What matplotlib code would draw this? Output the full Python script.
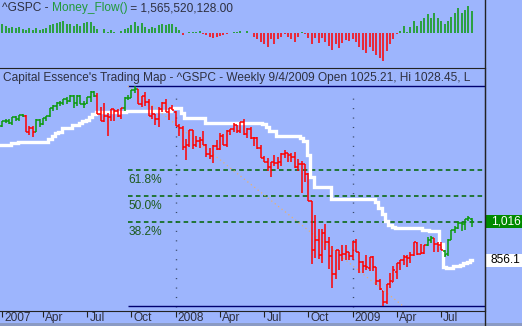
import matplotlib
matplotlib.use('Agg')
import matplotlib.pyplot as plt
from matplotlib.lines import Line2D
from matplotlib.patches import Rectangle
from matplotlib.collections import LineCollection

plt.rcParams['font.family'] = ['Liberation Sans', 'DejaVu Sans']

# weekly S&P 500 bars, week ending 5 Jan 2007 .. 4 Sep 2009
opens = [
    1418.0, 1409.3, 1430.7, 1430.5, 1422.0, 1448.3, 1438.0, 1455.5, 1451.0, 1387.1,
    1402.8, 1386.9, 1436.1, 1420.8, 1443.8, 1452.8, 1484.3, 1494.0, 1505.6, 1505.8,
    1522.7, 1515.6, 1536.3, 1507.6, 1532.9, 1502.5, 1504.7, 1530.4, 1552.5, 1534.1,
    1458.9, 1433.0, 1453.4, 1445.9, 1479.4, 1473.9, 1453.5, 1484.2, 1525.7, 1527.0,
    1557.6, 1561.8, 1500.6, 1535.3, 1509.6, 1453.7, 1458.7, 1440.7, 1481.1, 1504.7,
    1467.9, 1484.5,
    1468.0, 1411.9, 1401.0, 1325.2, 1330.5, 1395.4, 1331.1, 1350.0, 1353.1, 1330.4,
    1293.2, 1288.1, 1329.5, 1315.2, 1370.4, 1332.8, 1390.3, 1397.8, 1413.9, 1388.3,
    1425.3, 1375.9, 1400.4, 1360.8, 1360.0, 1317.9, 1278.0, 1262.9, 1239.5, 1260.7,
    1257.8, 1260.3, 1296.3, 1298.1, 1292.2, 1282.8, 1242.3, 1251.7, 1255.4, 1213.1,
    1099.2, 899.2, 940.5, 876.8, 968.7, 931.0, 873.0, 800.0, 896.2, 876.1,
    879.7, 887.9,
    872.4, 931.2, 890.4, 850.0, 832.0, 825.4, 868.2, 826.8, 770.0, 729.6,
    683.3, 756.5, 766.0, 809.1, 842.5, 856.6, 868.0, 866.0, 879.2, 929.0,
    883.0, 886.0, 919.0, 940.1, 946.2, 921.2, 918.8, 894.3, 880.0, 940.0,
    979.0, 987.8, 1010.0, 1004.0, 1026.0, 1025.21,
]
highs = [
    1429.4, 1431.6, 1441.6, 1440.7, 1449.3, 1453.0, 1456.0, 1461.6, 1456.95, 1410.2,
    1411.5, 1437.7, 1437.8, 1444.9, 1453.1, 1484.7, 1498.0, 1510.3, 1513.8, 1522.8,
    1529.3, 1540.6, 1540.6, 1538.7, 1539.9, 1515.0, 1532.4, 1555.1, 1555.9, 1547.2,
    1488.3, 1503.9, 1466.3, 1479.4, 1481.5, 1481.5, 1484.3, 1529.4, 1538.7, 1561.0,
    1576.1, 1564.7, 1535.7, 1552.8, 1520.8, 1492.1, 1460.2, 1488.9, 1510.6, 1523.6,
    1485.4, 1498.9,
    1471.8, 1420.0, 1410.0, 1355.0, 1396.0, 1396.0, 1370.0, 1365.0, 1388.3, 1337.0,
    1321.7, 1334.0, 1353.0, 1380.9, 1378.0, 1395.9, 1399.0, 1422.7, 1415.0, 1429.0,
    1440.2, 1401.0, 1406.0, 1365.0, 1366.6, 1333.7, 1285.0, 1277.0, 1262.3, 1292.2,
    1284.0, 1297.9, 1313.2, 1300.7, 1300.7, 1303.0, 1274.4, 1265.1, 1255.4, 1216.0,
    1099.2, 1044.3, 985.4, 984.4, 1007.5, 951.0, 913.0, 896.2, 896.2, 918.9,
    918.8, 888.7,
    934.7, 943.9, 890.4, 851.6, 877.9, 870.8, 875.0, 827.5, 780.1, 729.6,
    758.3, 803.0, 833.0, 845.6, 857.0, 875.6, 875.6, 888.7, 930.2, 929.6,
    924.6, 920.0, 951.0, 956.2, 946.2, 930.0, 931.0, 898.7, 943.0, 979.4,
    996.7, 1018.0, 1015.0, 1027.6, 1039.5, 1028.45,
]
lows = [
    1403.97, 1405.0, 1424.0, 1416.96, 1413.0, 1433.0, 1431.6, 1448.0, 1386.7, 1373.6,
    1363.98, 1386.9, 1408.0, 1416.4, 1431.0, 1446.0, 1474.0, 1476.7, 1491.4, 1498.3,
    1500.0, 1511.0, 1487.0, 1492.0, 1500.4, 1484.2, 1503.35, 1510.0, 1529.0, 1458.95,
    1433.0, 1427.4, 1370.6, 1430.5, 1432.0, 1449.0, 1439.3, 1471.8, 1516.5, 1526.0,
    1546.7, 1500.6, 1490.0, 1492.0, 1450.3, 1438.5, 1416.0, 1406.1, 1469.7, 1467.7,
    1435.7, 1475.0,
    1411.2, 1370.6, 1313.0, 1270.05, 1322.0, 1316.8, 1326.0, 1321.0, 1330.6, 1282.4,
    1272.7, 1256.98, 1312.0, 1312.0, 1331.0, 1324.0, 1373.0, 1384.0, 1380.0, 1380.0,
    1373.0, 1362.0, 1359.0, 1328.0, 1314.5, 1278.0, 1260.7, 1225.0, 1200.4, 1245.0,
    1233.0, 1247.0, 1280.0, 1261.0, 1263.0, 1236.3, 1223.0, 1133.5, 1179.0, 1099.2,
    839.8, 865.8, 860.0, 845.3, 899.7, 818.7, 741.0, 780.1, 815.7, 851.4,
    857.1, 857.7,
    857.3, 888.3, 804.3, 804.3, 814.3, 812.9, 810.7, 754.3, 731.2, 666.79,
    672.9, 742.4, 765.0, 779.8, 814.5, 836.9, 826.8, 845.0, 873.7, 878.9,
    880.0, 881.0, 916.0, 927.0, 888.0, 888.9, 896.4, 869.3, 875.0, 940.0,
    968.0, 983.0, 978.5, 980.0, 1016.0, 991.97,
]
closes = [
    1409.71, 1430.73, 1430.50, 1422.18, 1448.39, 1438.06, 1455.54, 1451.19, 1387.17, 1402.84,
    1386.95, 1436.11, 1420.86, 1443.76, 1452.85, 1484.35, 1494.07, 1505.62, 1505.85, 1522.75,
    1515.73, 1536.34, 1507.67, 1532.91, 1502.56, 1503.35, 1530.44, 1552.50, 1534.10, 1458.95,
    1433.06, 1453.64, 1445.94, 1479.37, 1473.99, 1453.55, 1484.25, 1525.75, 1526.75, 1557.59,
    1561.80, 1500.63, 1535.28, 1509.65, 1453.70, 1458.74, 1440.70, 1481.14, 1504.66, 1467.95,
    1484.46, 1478.49,
    1411.63, 1401.02, 1325.19, 1330.61, 1395.42, 1331.29, 1349.99, 1353.11, 1330.63, 1293.37,
    1288.14, 1329.51, 1315.22, 1370.40, 1332.83, 1390.33, 1397.84, 1413.90, 1388.28, 1425.35,
    1375.93, 1400.38, 1360.68, 1360.03, 1317.93, 1278.38, 1262.90, 1239.49, 1260.68, 1257.76,
    1260.31, 1296.32, 1298.20, 1292.20, 1282.83, 1242.31, 1251.70, 1255.08, 1213.27, 1099.23,
    899.22, 940.55, 876.77, 968.75, 930.99, 873.29, 800.03, 896.24, 876.07, 879.73,
    887.88, 872.80,
    931.80, 890.35, 850.12, 831.95, 825.88, 868.60, 826.84, 770.05, 735.09, 683.38,
    756.55, 768.54, 815.94, 842.50, 856.56, 869.60, 866.23, 877.52, 929.23, 882.88,
    887.00, 919.14, 940.09, 946.21, 921.23, 918.90, 896.42, 879.13, 940.38, 979.26,
    987.48, 1010.48, 1004.09, 1026.13, 1028.93, 1016.40,
]
# trend colouring of the bars: (number of weeks, direction)
trend_runs = [(8, 'up'), (3, 'down'), (18, 'up'), (8, 'down'), (4, 'up'),
              (85, 'down'), (2, 'up'), (3, 'down'), (9, 'up')]

# white trailing line
stop_line = [
    1332, 1332, 1332, 1332, 1339, 1339, 1346, 1346, 1346, 1346,
    1346, 1346, 1346, 1346, 1346, 1357, 1370, 1380, 1388, 1403,
    1403, 1403, 1415, 1415, 1424, 1430, 1437, 1448, 1460, 1468,
    1468, 1468, 1468, 1468, 1468, 1468, 1468, 1468, 1473, 1473,
    1473, 1473, 1473, 1473, 1473, 1473, 1473, 1473, 1473, 1473,
    1473, 1486, 1486, 1486, 1465, 1442, 1442, 1442, 1442, 1442,
    1442, 1425, 1425, 1425, 1425, 1425, 1425, 1425, 1425, 1425,
    1425, 1425, 1425, 1425, 1425, 1425, 1425, 1425, 1418, 1405,
    1390, 1390, 1369, 1369, 1369, 1369, 1369, 1369, 1369, 1360,
    1348, 1290, 1200, 1157, 1157, 1157, 1157, 1157, 1108, 1108,
    1108, 1108, 1108, 1108, 1108, 1108, 1108, 1108, 1108, 1108,
    1108, 1095, 1070, 1045, 1018, 1003, 993, 988, 988, 988,
    988, 988, 988, 988, 988, 982, 982, 977, 977, 977,
    925, 828, 822, 822, 830, 830, 836, 843, 850, 856.1,
]

# Money_Flow histogram, billions
money_flow = [
    0.57, 0.64, 0.50, 0.36, 0.48, 0.36, 0.48, 0.33, 0.21, 0.36,
    0.26, 0.36, 0.23, 0.28, 0.41, 0.57, 0.69, 0.71, 0.78, 0.85,
    0.66, 0.69, 0.55, 0.69, 0.55, 0.71, 0.78, 0.78, 0.50, 0.28,
    0.02, 0.28, 0.12, 0.21, 0.09, 0.02, 0.16, 0.28, 0.41, 0.62,
    0.78, 0.50, 0.71, 0.48, 0.28, 0.48, 0.36, 0.57, 0.69, 0.57,
    0.69, 0.64, 0.48, 0.23, -0.09, 0.02, 0.12, 0.07, 0.12, 0.16,
    -0.05, -0.12, -0.23, -0.36, -0.28, -0.19, -0.12, -0.07, 0.04, 0.12,
    0.07, 0.16, 0.05, 0.16, 0.02, -0.28, -0.43, -0.64, -0.76, -0.95,
    -0.43, -0.76, -0.43, -0.23, -0.07, -0.23, -0.41, -0.59, -0.23, 0.12,
    -0.05, -0.31, -0.76, -0.31, -0.66, -0.31, -0.59, -0.88, -1.19, -0.76,
    -1.02, -0.66, -0.48, -0.55, -0.43, -0.59, -0.95, -1.19, -1.37, -0.95,
    -1.26, -1.54, -1.73, -1.97, -1.26, -0.76, -0.43, -0.07, 0.16, 0.52,
    0.12, 0.48, 0.88, 0.52, 0.88, 1.12, 1.37, 1.07, 1.42, 1.07,
    0.88, 0.66, 0.88, 1.19, 1.47, 1.83, 1.47, 1.66, 1.94, 1.5655,
]

tick_weeks = [1, 13, 26, 39, 52, 65, 78, 91, 104, 117, 130]
tick_labels = ['2007', 'Apr', 'Jul', 'Oct', '2008', 'Apr', 'Jul', 'Oct', '2009', 'Apr', 'Jul']
year_weeks = [52, 104]

# Fibonacci retracement drawn on the chart
fib_high = 1576.09
fib_low = 666.79
fib_start = 37.9
fib_end = 118.8
fib_levels = [0.382, 0.5, 0.618]

# the header line as far as it is shown in the panel
title = ("Capital Essence's Trading Map - ^GSPC - Weekly 9/4/2009 "
         "Open 1025.21, Hi 1028.45, L")
mf_last = 1565520128.00

bg = '#9db5fd'
green = '#0a9a0a'
red = '#ff0000'
txt = '#2e3040'
fs = 8.6

W, H = 522, 326
fig = plt.figure(figsize=(W / 100, H / 100), dpi=100)
fig.patch.set_facecolor(bg)

x0, x1 = 0.35, 142.9
ax_mf = fig.add_axes([0, 1 - 68 / H, 485 / W, 68 / H])
ax = fig.add_axes([0, 15 / H, 485 / W, 243 / H])
axr = fig.add_axes([485 / W, 15 / H, 37 / W, 243 / H])

weeks = list(range(len(closes)))

# ---- Money flow panel
ax_mf.set_facecolor(bg)
mf_cols = [green if v >= 0 else red for v in money_flow]
ax_mf.vlines(weeks, 0, money_flow, colors=mf_cols, lw=1.1)
ax_mf.set_xlim(x0, x1)
ax_mf.set_ylim(-2.47, 2.37)
ax_mf.set_xticks([])
ax_mf.set_yticks([])
for s in ax_mf.spines.values():
    s.set_visible(False)
t1 = ax_mf.text(0.004, 0.97, '^GSPC - ', transform=ax_mf.transAxes,
                va='top', ha='left', fontsize=fs, color=txt)
t2 = ax_mf.annotate('Money_Flow()', xy=(1, 0), xycoords=t1, va='bottom',
                    ha='left', fontsize=fs, color='#229a3a')
ax_mf.annotate(' = {:,.2f}'.format(mf_last), xy=(1, 0), xycoords=t2,
               va='bottom', ha='left', fontsize=fs, color=txt)

# ---- Main price panel
ax.set_facecolor(bg)
ax.set_xlim(x0, x1)
ax.set_ylim(646, 1650.5)

for w in year_weeks:
    ax.axvline(w, ymin=0.016, ymax=0.905, color='#3a4a6a', lw=1.0,
               linestyle=(0, (0.8, 6)))

span = fib_high - fib_low
for lvl in fib_levels:
    price = fib_low + lvl * span
    ax.hlines(price, fib_start, x1, color='#006400', lw=1.1,
              linestyles=(0, (3, 2.2)))
    ax.annotate('{:.1f}%'.format(lvl * 100), xy=(fib_start, price),
                xytext=(0.5, -3), textcoords='offset points', va='top',
                ha='left', fontsize=fs, color='#1d5a1d')
ax.hlines([fib_high, fib_low], fib_start, x1, color='#000070', lw=1.0)
ax.plot([fib_start, fib_end], [fib_high, fib_low], color='#e8b070', lw=0.9,
        linestyle=(0, (1, 2.5)))

ax.plot(weeks, stop_line, color='white', lw=2.4, drawstyle='steps-mid',
        solid_joinstyle='miter', zorder=3)

bar_cols = []
for n, d in trend_runs:
    bar_cols += [green if d == 'up' else red] * n
segs, cols = [], []
for i in weeks:
    segs.append([(i, lows[i]), (i, highs[i])])
    segs.append([(i - 0.5, opens[i]), (i, opens[i])])
    segs.append([(i, closes[i]), (i + 0.5, closes[i])])
    cols += [bar_cols[i]] * 3
ax.add_collection(LineCollection(segs, colors=cols, linewidths=1.1, zorder=4))

ax.text(0.006, 0.985, title, transform=ax.transAxes, va='top', ha='left',
        fontsize=fs, color=txt)

ax.spines['left'].set_visible(False)
for s in ['top', 'bottom', 'right']:
    ax.spines[s].set_color('#222222')
ax.set_yticks([])
ax.set_xticks(tick_weeks)
ax.set_xticklabels([])
ax.tick_params(axis='x', length=4, width=0.8, color='#222222', direction='out')
for w, lab in zip(tick_weeks, tick_labels):
    ax.annotate(lab, xy=(w, 0), xycoords=('data', 'axes fraction'),
                xytext=(1.5, -1), textcoords='offset points', va='top',
                ha='left', fontsize=fs, color=txt)

# ---- Right price scale labels
axr.set_ylim(ax.get_ylim())
axr.set_xlim(0, 1)
axr.axis('off')
px = (ax.get_ylim()[1] - ax.get_ylim()[0]) / 243
axr.add_patch(Rectangle((0.02, closes[-1] - 6.5 * px), 1, 13 * px,
                        color='#008a00', lw=0, clip_on=False))
axr.text(0.17, closes[-1], '{:,.0f}'.format(closes[-1]), color='white',
         fontsize=8.6, va='center', ha='left')
axr.add_patch(Rectangle((0.04, stop_line[-1] - 6.5 * px), 1, 13 * px,
                        color='white', lw=0, clip_on=False))
axr.text(0.15, stop_line[-1], '{:.1f}'.format(stop_line[-1]), color='black',
         fontsize=8.6, va='center', ha='left')

fig.add_artist(Line2D([485 / W, 485 / W], [0, 1], color='#222222', lw=1.0,
                      transform=fig.transFigure))
fig.add_artist(Rectangle((0, 0), 1, 3 / H, color='#8a9ac4', lw=0,
                         transform=fig.transFigure))

fig.savefig('out.png', dpi=100, facecolor=bg)
